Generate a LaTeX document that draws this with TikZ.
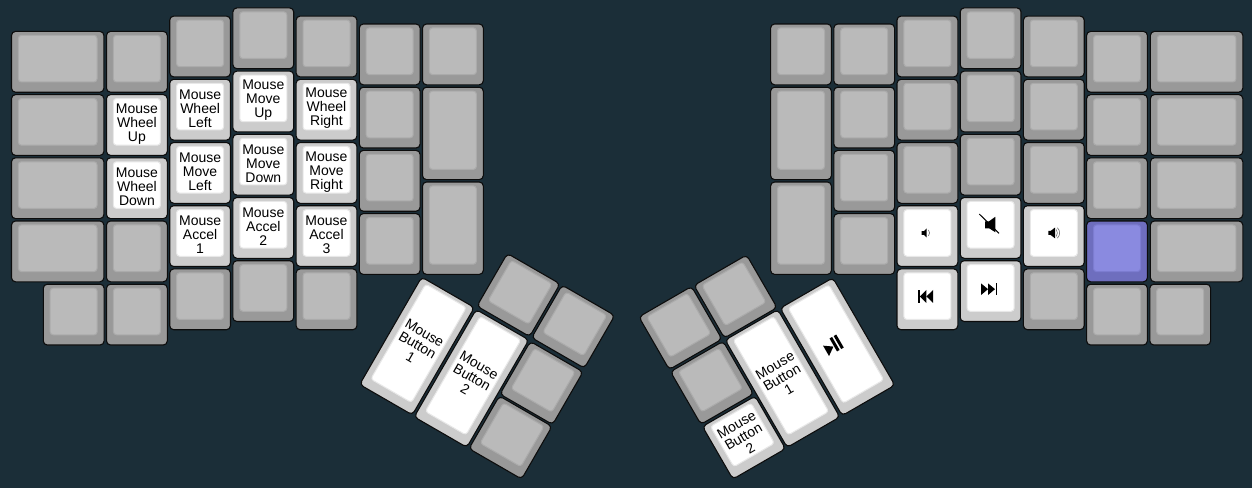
\documentclass[tikz,border=0pt]{standalone}
\usepackage{fontspec}
\setmainfont{Liberation Sans}
\definecolor{boardbg}{HTML}{1B2E38}
\definecolor{keyedge}{HTML}{0C0C0C}
\tikzset{
  keybase/.style={rectangle,draw=keyedge,line width=1.1pt,rounded corners=4pt,inner sep=0pt,outer sep=0pt},
  keytop/.style={rectangle,line width=1pt,rounded corners=3pt,inner sep=0pt,outer sep=0pt},
  keytext/.style={inner sep=0pt,outer sep=0pt,align=center,font=\fontsize{14}{14}\selectfont},
  greybase/.style={keybase,fill=black!40},
  greytop/.style={keytop,fill=black!27,draw=black!33},
  whitebase/.style={keybase,fill=black!20},
  whitetop/.style={keytop,fill=white,draw=black!9},
  purplebase/.style={keybase,fill={rgb,255:red,110;green,110;blue,190}},
  purpletop/.style={keytop,fill={rgb,255:red,138;green,138;blue,224},draw={rgb,255:red,124;green,124;blue,208}},
  icon/.style={fill=black,draw=none},
  thinarc/.style={draw=black!55,line width=0.6pt,fill=none}
}
\newcommand{\keycap}[8]{%
  \node[#7base,rotate=#6,minimum width={63.2*#4*1pt-2.4pt},minimum height={63.2*#5*1pt-2.4pt}] (#1) at (#2,#3) {};
  \node[#7top,rotate=#6,minimum width={63.2*#4*1pt-16.2pt},minimum height={63.2*#5*1pt-16.6pt}] (#1top)
    at ([shift={(#6+90:3.15pt)}]#1.center) {};
  \node[keytext,rotate=#6] (#1text) at ([shift={(#6+90:1.2pt)}]#1.center) {#8};
}
\begin{document}
\begin{tikzpicture}[x=1pt,y=-1pt]
  \useasboundingbox (0,0) rectangle (1252,488);
  \fill[boardbg] (0,0) rectangle (1252,488);
  \foreach \name/\cx/\cy/\wu/\hu/\rot in {
    la/57.7/61.8/1.5/1/0, lb/57.7/125/1.5/1/0, lc/57.7/188.2/1.5/1/0, ld/57.7/251.4/1.5/1/0,
    le/136.9/61.8/1/1/0, lf/136.9/251.4/1/1/0, lg/73.7/314.6/1/1/0, lh/136.9/314.6/1/1/0,
    li/200.1/46.5/1/1/0, lj/200.1/299.3/1/1/0, lk/263.3/38.3/1/1/0, ll/263.3/291.1/1/1/0,
    lm/326.5/46.5/1/1/0, ln/326.5/299.3/1/1/0,
    lo/389.7/54.4/1/1/0, lp/389.7/117.6/1/1/0, lq/389.7/180.8/1/1/0, lr/389.7/244/1/1/0,
    ls/452.9/54.4/1/1/0, lt/452.9/133.4/1/1.5/0, lu/452.9/228.2/1/1.5/0,
    lv/518.5/295/1/1/-30, lw/573.2/326.6/1/1/-30, lx/541.5/383/1/1/-30, ly/510.5/437.5/1/1/-30,
    ra/801/54.4/1/1/0, rb/801/133.4/1/1.5/0, rc/801/228.2/1/1.5/0,
    rd/864.2/54.4/1/1/0, re/864.2/117.6/1/1/0, rf/864.2/180.8/1/1/0, rg/864.2/244/1/1/0,
    rh/927.4/46.5/1/1/0, ri/927.4/109.7/1/1/0, rj/927.4/172.9/1/1/0,
    rk/990.6/38.3/1/1/0, rl/990.6/101.5/1/1/0, rm/990.6/164.7/1/1/0,
    rn/1053.8/46.5/1/1/0, ro/1053.8/109.7/1/1/0, rp/1053.8/172.9/1/1/0, rq/1053.8/299.3/1/1/0,
    rr/1117/61.8/1/1/0, rs/1117/125/1/1/0, rt/1117/188.2/1/1/0, ru/1117/314.6/1/1/0,
    rv/1196.6/61.8/1.5/1/0, rw/1196.6/125/1.5/1/0, rx/1196.6/188.2/1.5/1/0, ry/1196.6/251.4/1.5/1/0,
    rz/1180.2/314.6/1/1/0,
    rtha/735.5/296.5/1/1/30, rthb/680.4/328/1/1/30, rthc/712/382.8/1/1/30}
    {\keycap{\name}{\cx}{\cy}{\wu}{\hu}{\rot}{grey}{}}
  \keycap{wheelup}{136.9}{125}{1}{1}{0}{white}{Mouse\\Wheel\\Up}
  \keycap{wheeldown}{136.9}{188.2}{1}{1}{0}{white}{Mouse\\Wheel\\Down}
  \keycap{wheelleft}{200.1}{109.7}{1}{1}{0}{white}{Mouse\\Wheel\\Left}
  \keycap{moveleft}{200.1}{172.9}{1}{1}{0}{white}{Mouse\\Move\\Left}
  \keycap{accela}{200.1}{236.1}{1}{1}{0}{white}{Mouse\\Accel\\1}
  \keycap{moveup}{263.3}{101.5}{1}{1}{0}{white}{Mouse\\Move\\Up}
  \keycap{movedown}{263.3}{164.7}{1}{1}{0}{white}{Mouse\\Move\\Down}
  \keycap{accelb}{263.3}{227.9}{1}{1}{0}{white}{Mouse\\Accel\\2}
  \keycap{wheelright}{326.5}{109.7}{1}{1}{0}{white}{Mouse\\Wheel\\Right}
  \keycap{moveright}{326.5}{172.9}{1}{1}{0}{white}{Mouse\\Move\\Right}
  \keycap{accelc}{326.5}{236.1}{1}{1}{0}{white}{Mouse\\Accel\\3}
  \keycap{lbuttona}{417}{346}{1}{2}{-30}{white}{Mouse\\Button\\1}
  \keycap{lbuttonb}{471.5}{378.4}{1}{2}{-30}{white}{Mouse\\Button\\2}
  \keycap{playkey}{837.5}{346.7}{1}{2}{30}{white}{}
  \keycap{rbuttona}{782.5}{378.5}{1}{2}{30}{white}{Mouse\\Button\\1}
  \keycap{rbuttonb}{744}{437.6}{1}{1}{30}{white}{Mouse\\Button\\2}
  \keycap{voldown}{927.4}{236.1}{1}{1}{0}{white}{}
  \keycap{mutekey}{990.6}{227.9}{1}{1}{0}{white}{}
  \keycap{volup}{1053.8}{236.1}{1}{1}{0}{white}{}
  \keycap{prevkey}{927.4}{299.3}{1}{1}{0}{white}{}
  \keycap{nextkey}{990.6}{291.1}{1}{1}{0}{white}{}
  \keycap{layerkey}{1117}{251.4}{1}{1}{0}{purple}{}

  \begin{scope}[shift={(voldown.center)},yshift=3.15pt]
    \fill[icon] (-5.7,-1.8) -- (-3.5,-1.8) -- (-0.8,-4.5) -- (-0.8,4.5) -- (-3.5,1.8) -- (-5.7,1.8) -- cycle;
    \draw[thinarc] (1,-3) .. controls (2.6,-1) and (2.6,1) .. (1,3);
  \end{scope}
  \begin{scope}[shift={(mutekey.center)},yshift=3.15pt]
    \fill[icon] (-5.6,-3.5) -- (-1.5,-3.5) -- (4.7,-8) -- (4.7,7.5) -- (-1.5,3.5) -- (-5.6,3.5) -- cycle;
    \draw[line width=1pt] (-11.3,-10.7) -- (8.4,8.6);
  \end{scope}
  \begin{scope}[shift={(volup.center)},yshift=3.15pt]
    \fill[icon] (-5.5,-2) -- (-3.2,-2) -- (1.2,-5.4) -- (1.2,5.4) -- (-3.2,2) -- (-5.5,2) -- cycle;
    \draw[thinarc] (2.4,-3.5) .. controls (4,-1.5) and (4,1.5) .. (2.4,3.5);
    \draw[thinarc] (3.6,-5.2) .. controls (6.6,-2) and (6.6,2) .. (3.6,5.2);
  \end{scope}
  \begin{scope}[shift={(prevkey.center)},yshift=3.15pt]
    \fill[icon] (-9,-6.5) rectangle (-7.8,7);
    \fill[icon] (-7.5,0.3) -- (-1,-6.2) -- (-1,6.8) -- cycle;
    \fill[icon] (-1,0.3) -- (5.8,-6.2) -- (5.8,6.8) -- cycle;
  \end{scope}
  \begin{scope}[shift={(nextkey.center)},yshift=3.15pt]
    \fill[icon] (-9.6,-4.6) -- (-2.6,1.2) -- (-9.6,7.1) -- cycle;
    \fill[icon] (-2.6,-4.6) -- (4.4,1.2) -- (-2.6,7.1) -- cycle;
    \fill[icon] (4.9,-5) rectangle (6.1,7.4);
  \end{scope}
  \begin{scope}[shift={(playkeytop.center)},rotate=30]
    \fill[icon] (-12,-5) -- (-3.5,1) -- (-12,7) -- cycle;
    \fill[icon] (-2.8,-8) rectangle (0.2,7);
    \fill[icon] (2,-8) rectangle (5,7);
  \end{scope}
\end{tikzpicture}
\end{document}
